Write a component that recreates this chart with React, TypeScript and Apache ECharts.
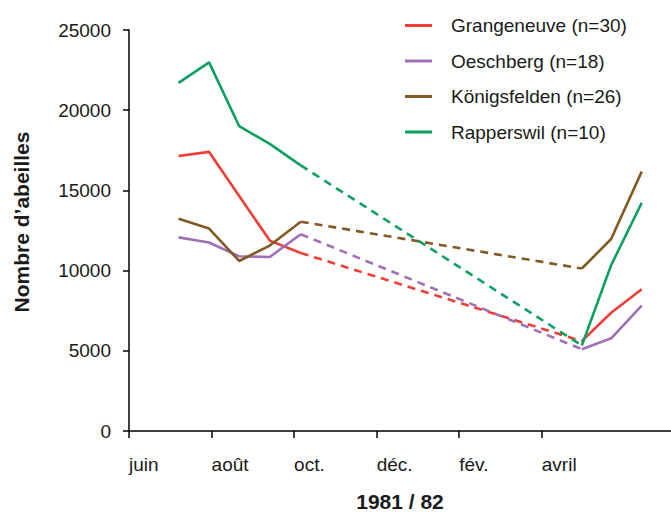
import React, { useEffect, useRef } from "react";
import * as echarts from "echarts";

// x in months after 1 June 1981
const sampleMonths = [1.2, 1.94, 2.67, 3.41, 4.16, 10.97, 11.68, 12.42];
const tickMonths = [0, 2, 4, 6, 8, 10];
const monthLabels = ["juin", "août", "oct.", "déc.", "fév.", "avril"];

const siteNames = [
  "Grangeneuve (n=30)",
  "Oeschberg (n=18)",
  "Königsfelden (n=26)",
  "Rapperswil (n=10)",
];
const grangeneuve = [17150, 17400, 14650, 11870, 11100, 5600, 7370, 8840];
const oeschberg = [12070, 11750, 10890, 10850, 12270, 5100, 5780, 7820];
const koenigsfelden = [13230, 12620, 10600, 11560, 13050, 10130, 11970, 16170];
const rapperswil = [21700, 22980, 19000, 17900, 16560, 5330, 10340, 14220];
const siteColors = ["#EF3E36", "#A070B6", "#845A24", "#0E9F62"];

const FONT = "'Liberation Sans', Arial, Helvetica, sans-serif";

export default function App() {
  const ref = useRef<HTMLDivElement>(null);
  useEffect(() => {
    if (!ref.current) return;
    const chart = echarts.init(ref.current, null, { renderer: "svg" });
    const all = [grangeneuve, oeschberg, koenigsfelden, rapperswil];
    const series: any[] = [];
    all.forEach((vals, i) => {
      const pts = sampleMonths.map((x, j) => [x, vals[j]]);
      const base = {
        type: "line",
        name: siteNames[i],
        symbol: "none",
        color: siteColors[i],
        z: 2 + i,
      };
      series.push({
        ...base,
        data: pts.slice(0, 5),
        lineStyle: { color: siteColors[i], width: 2.6, type: "solid" },
      });
      series.push({
        ...base,
        data: pts.slice(4, 6),
        lineStyle: { color: siteColors[i], width: 2.6, type: [8, 6] },
      });
      series.push({
        ...base,
        data: pts.slice(5),
        lineStyle: { color: siteColors[i], width: 2.6, type: "solid" },
      });
    });
    chart.setOption({
      animation: false,
      backgroundColor: "#ffffff",
      textStyle: { fontFamily: FONT },
      grid: { left: 129, right: 0, top: 30, bottom: 80, containLabel: false },
      legend: {
        data: siteNames,
        orient: "vertical",
        left: 400,
        top: 11,
        itemWidth: 27,
        itemHeight: 3,
        itemGap: 16.5,
        icon: "rect",
        textStyle: {
          fontFamily: FONT,
          fontSize: 19,
          color: "#1a1a1a",
          padding: [0, 0, 0, 14],
        },
      },
      xAxis: {
        type: "value",
        min: 0,
        max: 13.13,
        name: "1981 / 82",
        nameLocation: "middle",
        nameGap: 60,
        nameTextStyle: {
          fontFamily: FONT,
          fontSize: 21,
          fontWeight: "bold",
          color: "#1a1a1a",
        },
        axisLine: { show: true, lineStyle: { color: "#000", width: 1.5 } },
        axisTick: {
          show: true,
          length: 7,
          customValues: tickMonths,
          lineStyle: { color: "#000", width: 1.5 },
        },
        axisLabel: {
          customValues: tickMonths,
          formatter: (v: number) => monthLabels[Math.round(v / 2)] ?? "",
          align: "left",
          margin: 24,
          fontSize: 19,
          color: "#1a1a1a",
          fontFamily: FONT,
        },
        splitLine: { show: false },
      },
      yAxis: {
        type: "value",
        min: 0,
        max: 25000,
        interval: 5000,
        axisLine: { show: true, lineStyle: { color: "#000", width: 1.5 } },
        axisTick: { show: true, length: 6, lineStyle: { color: "#000", width: 1.5 } },
        axisLabel: {
          margin: 18,
          fontSize: 19,
          color: "#1a1a1a",
          fontFamily: FONT,
          formatter: (v: number) => String(v),
        },
        splitLine: { show: false },
      },
      graphic: [
        {
          type: "text",
          x: 21,
          y: 222,
          rotation: Math.PI / 2,
          style: {
            text: "Nombre d’abeilles",
            align: "center",
            verticalAlign: "middle",
            font: `bold 21px ${FONT}`,
            fill: "#1a1a1a",
          },
        },
      ],
      series,
    });
    return () => chart.dispose();
  }, []);
  return (
    <div
      ref={ref}
      style={{ position: "fixed", left: 0, top: 0, width: 671, height: 517 }}
    />
  );
}
